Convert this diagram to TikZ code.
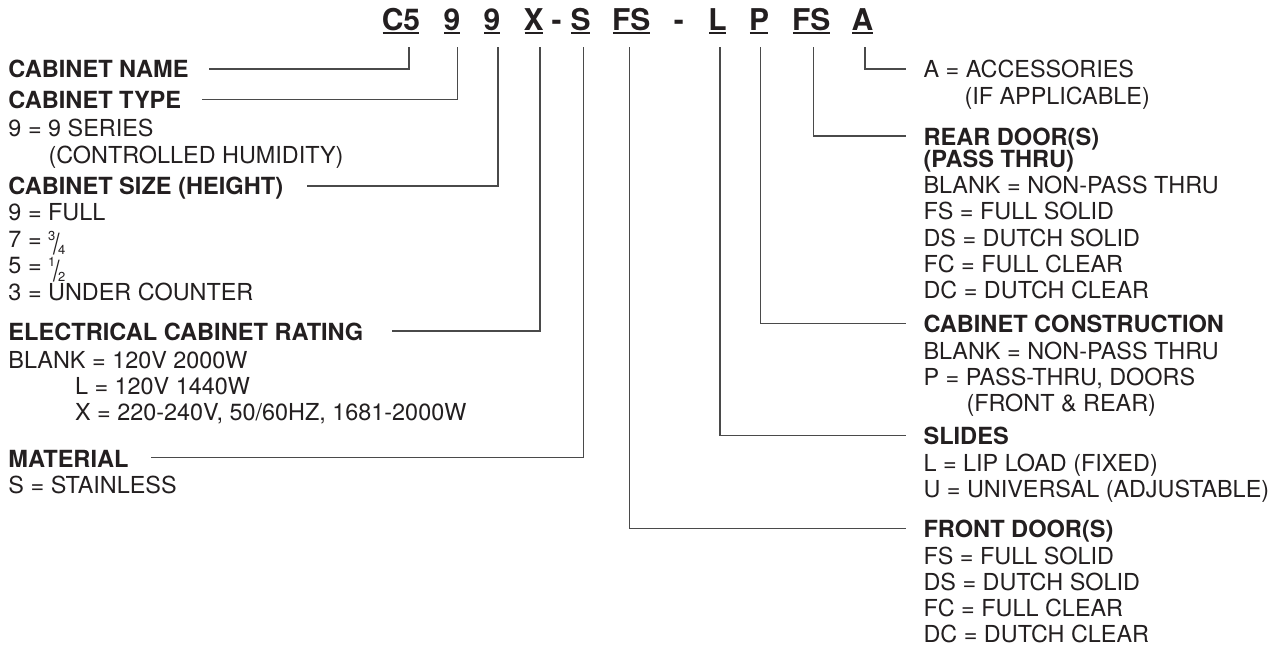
\documentclass[tikz,border=0pt]{standalone}
\usepackage{fontspec}
\usepackage{graphicx}
\setmainfont{TeX Gyre Heros}
\definecolor{ink}{HTML}{231F20}
\definecolor{leadc}{HTML}{4A4A4A}
\newcommand\hbf{\fontsize{23.6}{26}\selectfont\bfseries}
\newcommand\rgf{\fontsize{23.4}{26}\selectfont}
\newcommand\cdf{\fontsize{30}{32}\selectfont\bfseries}
\newcommand\myfrac[2]{\smash{\raisebox{7.4pt}{\fontsize{13}{13}\selectfont #1}\kern-2.4pt\raisebox{-7.2pt}{\scalebox{1}[1.25]{/}}\kern-1.4pt\raisebox{-7.4pt}{\fontsize{13}{13}\selectfont #2}}}
\tikzset{
  hd/.style={anchor=base west, inner sep=0pt, outer sep=0pt, font=\hbf, text=ink},
  tx/.style={anchor=base west, inner sep=0pt, outer sep=0pt, font=\rgf, text=ink},
  code/.style={anchor=base, inner sep=0pt, outer sep=0pt, font=\cdf, text=ink},
  ul/.style={line width=1.9pt, draw=ink},
  lead/.style={line width=1.2pt, draw=leadc},
}
\begin{document}
\begin{tikzpicture}[x=1pt,y=-1pt]
\useasboundingbox (0,0) rectangle (1287,645);
% code row
\node[code] (c5) at (401,30) {C5};
\node[code] (ctype) at (452,30) {9};
\node[code] (csize) at (492,30) {9};
\node[code] (cx) at (533.7,30) {X};
\node[code] (d1) at (556.7,30) {-};
\node[code] (cs) at (580.5,30) {S};
\node[code] (cfs) at (631.3,30) {FS};
\node[code] (d2) at (678.8,30) {-};
\node[code] (cl) at (717.5,30) {L};
\node[code] (cp) at (759,30) {P};
\node[code] (crs) at (811.3,30) {FS};
\node[code] (ca) at (862.5,30) {A};
\foreach \n in {c5,ctype,csize,cx,cs,cfs,cl,cp,crs,ca}
  \draw[ul] ([xshift=0.8pt,yshift=-3pt]\n.base west) -- ([xshift=-0.8pt,yshift=-3pt]\n.base east);

% left column
\node[hd] (nameH) at (8.5,77) {CABINET NAME};
\node[hd] (typeH) at (8.5,108.5) {CABINET TYPE};
\node[tx] (t1) at (8.5,136.4) {9 = 9 SERIES};
\node[tx] (t2) at (48.5,163.4) {(CONTROLLED HUMIDITY)};
\node[hd] (sizeH) at (8.5,194.5) {CABINET SIZE (HEIGHT)};
\node[tx] (s1) at (8.5,220.9) {9 = FULL};
\node[tx] (s2) at (8.5,247.4) {7 = \myfrac{3}{4}};
\node[tx] (s3) at (8.5,273.9) {5 = \myfrac{1}{2}};
\node[tx] (s4) at (8.5,300.4) {3 = UNDER COUNTER};
\node[hd] (elecH) at (8.5,340) {ELECTRICAL CABINET RATING};
\node[tx] (e1) at (8.5,368.9) {BLANK = 120V 2000W};
\node[tx] (e2) at (75,394.9) {L = 120V 1440W};
\node[tx] (e3) at (75,420.9) {X = 220-240V, 50/60HZ, 1681-2000W};
\node[hd] (matH) at (8.5,467) {MATERIAL};
\node[tx] (m1) at (8.5,493.4) {S = STAINLESS};

% right column
\node[tx] (acc1) at (923.5,77.9) {A = ACCESSORIES};
\node[tx] (acc2) at (964.5,104.9) {(IF APPLICABLE)};
\node[hd] (rearH) at (923.5,145) {REAR DOOR(S)};
\node[hd] (rearH2) at (923.5,167.5) {(PASS THRU)};
\node[tx] (r1) at (923.5,193.4) {BLANK = NON-PASS THRU};
\node[tx] (r2) at (923.5,219.7) {FS = FULL SOLID};
\node[tx] (r3) at (923.5,246) {DS = DUTCH SOLID};
\node[tx] (r4) at (923.5,272.3) {FC = FULL CLEAR};
\node[tx] (r5) at (923.5,298.6) {DC = DUTCH CLEAR};
\node[hd] (consH) at (923.5,332.5) {CABINET CONSTRUCTION};
\node[tx] (k1) at (923.5,359.4) {BLANK = NON-PASS THRU};
\node[tx] (k2) at (923.5,385.4) {P = PASS-THRU, DOORS};
\node[tx] (k3) at (966.5,411.4) {(FRONT \& REAR)};
\node[hd] (slH) at (923.5,444.5) {SLIDES};
\node[tx] (sl1) at (923.5,471.4) {L = LIP LOAD (FIXED)};
\node[tx] (sl2) at (923.5,497.9) {U = UNIVERSAL (ADJUSTABLE)};
\node[hd] (frH) at (923.5,537.5) {FRONT DOOR(S)};
\node[tx] (f1) at (923.5,564.2) {FS = FULL SOLID};
\node[tx] (f2) at (923.5,590.2) {DS = DUTCH SOLID};
\node[tx] (f3) at (923.5,616.2) {FC = FULL CLEAR};
\node[tx] (f4) at (923.5,642.2) {DC = DUTCH CLEAR};

% leader ends
\coordinate (vC5) at (409,47);
\coordinate (vType) at (457.7,47);
\coordinate (vSize) at (498,47);
\coordinate (vX) at (540,47);
\coordinate (vS) at (583.7,47);
\coordinate (vFS) at (629.3,47);
\coordinate (vL) at (720,47);
\coordinate (vP) at (760.7,47);
\coordinate (vRS) at (813.3,47);
\coordinate (vA) at (865,47);

\coordinate (eName) at (209,69);
\coordinate (eType) at (202,99.5);
\coordinate (eSize) at (307,186);
\coordinate (eElec) at (392,331);
\coordinate (eMat) at (151,457.5);
\coordinate (eAcc) at (906,69);
\coordinate (eRear) at (906,136);
\coordinate (eCons) at (906,323.5);
\coordinate (eSl) at (906,435.5);
\coordinate (eFr) at (906,528.5);

\draw[lead] (vC5) |- (eName);
\draw[lead] (vType) |- (eType);
\draw[lead] (vSize) |- (eSize);
\draw[lead] (vX) |- (eElec);
\draw[lead] (vS) |- (eMat);
\draw[lead] (vA) |- (eAcc);
\draw[lead] (vRS) |- (eRear);
\draw[lead] (vP) |- (eCons);
\draw[lead] (vL) |- (eSl);
\draw[lead] (vFS) |- (eFr);
\end{tikzpicture}
\end{document}
